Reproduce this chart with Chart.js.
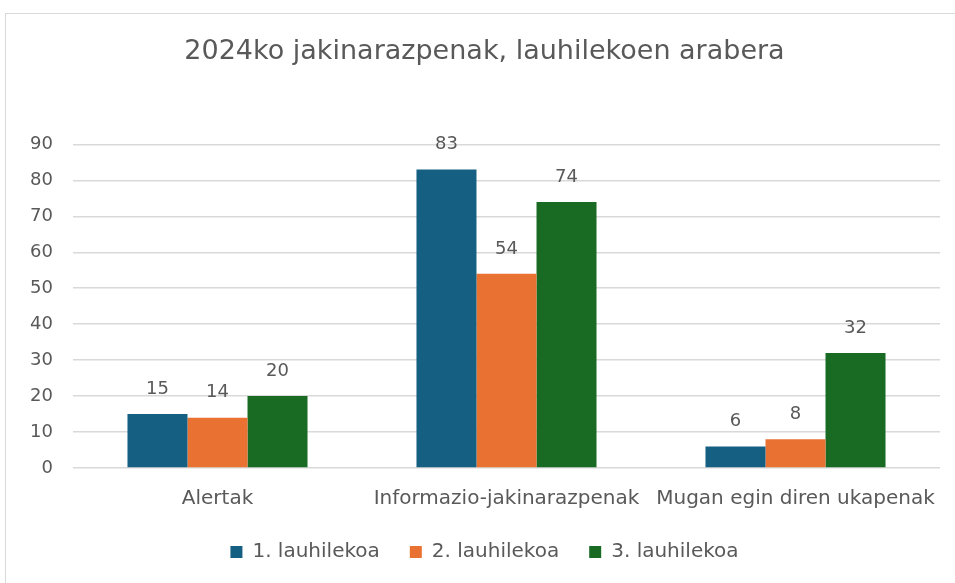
<!DOCTYPE html>
<html>
<head>
<meta charset="utf-8">
<script src="https://cdn.jsdelivr.net/npm/chart.js@4.4.1/dist/chart.umd.min.js"></script>
<style>
  html, body { margin: 0; padding: 0; background: #fff; }
  #wrap { position: relative; width: 955px; height: 583px; }
  #frame { position: absolute; left: 5px; top: 13px; width: 960px; height: 600px; border: 1px solid #d9d9d9; box-sizing: border-box; }
  canvas { position: absolute; left: 0; top: 0; }
</style>
</head>
<body>
<div id="wrap">
  <div id="frame"></div>
  <canvas id="chart" width="955" height="583"></canvas>
</div>
<script>
// Chart data
const categories = ['Alertak', 'Informazio-jakinarazpenak', 'Mugan egin diren ukapenak'];
const seriesNames = ['1. lauhilekoa', '2. lauhilekoa', '3. lauhilekoa'];
const q1 = [15, 83, 6];
const q2 = [14, 54, 8];
const q3 = [20, 74, 32];
const yTicks = [0, 10, 20, 30, 40, 50, 60, 70, 80, 90];

const colors = ['#156082', '#E97132', '#196B24'];
const textColor = '#595959';
const fontFamily = "'DejaVu Sans', 'Liberation Sans', sans-serif";

// Draw value labels above each bar
const valueLabels = {
    id: 'valueLabels',
    afterDatasetsDraw(chart) {
        const ctx = chart.ctx;
        ctx.save();
        ctx.fillStyle = textColor;
        ctx.font = '18px ' + fontFamily;
        ctx.textAlign = 'center';
        ctx.textBaseline = 'middle';
        chart.data.datasets.forEach((ds, i) => {
            chart.getDatasetMeta(i).data.forEach((bar, j) => {
                ctx.fillText(ds.data[j], bar.x, bar.y - 25);
            });
        });
        ctx.restore();
    }
};

new Chart(document.getElementById('chart'), {
    type: 'bar',
    data: {
        labels: categories,
        datasets: [q1, q2, q3].map((d, i) => ({
            label: seriesNames[i],
            data: d,
            backgroundColor: colors[i],
            borderWidth: 0,
            barPercentage: 1,
            categoryPercentage: 0.623
        }))
    },
    options: {
        responsive: false,
        animation: false,
        layout: { padding: { left: 29, right: 15, top: 0, bottom: 11 } },
        plugins: {
            title: {
                display: true,
                text: '2024ko jakinarazpenak, lauhilekoen arabera',
                color: textColor,
                font: { family: fontFamily, size: 27, weight: 'normal' },
                padding: { top: 36, bottom: 76 }
            },
            legend: {
                position: 'bottom',
                labels: {
                    color: textColor,
                    font: { family: fontFamily, size: 20 },
                    boxWidth: 12,
                    boxHeight: 12,
                    padding: 30
                }
            },
            tooltip: { enabled: false }
        },
        scales: {
            x: {
                grid: { display: false },
                border: { display: false },
                ticks: {
                    color: textColor,
                    font: { family: fontFamily, size: 20 },
                    padding: 11,
                    maxRotation: 0
                },
                afterFit(scale) { scale.height = 44; }
            },
            y: {
                min: 0,
                max: 90,
                afterBuildTicks(scale) { scale.ticks = yTicks.map(v => ({ value: v })); },
                grid: { color: '#d9d9d9', lineWidth: 1.5, drawTicks: false },
                border: { display: false },
                ticks: {
                    color: textColor,
                    font: { family: fontFamily, size: 18 },
                    padding: 20
                },
                afterFit(scale) { scale.width = 44; }
            }
        }
    },
    plugins: [valueLabels]
});
</script>
</body>
</html>
